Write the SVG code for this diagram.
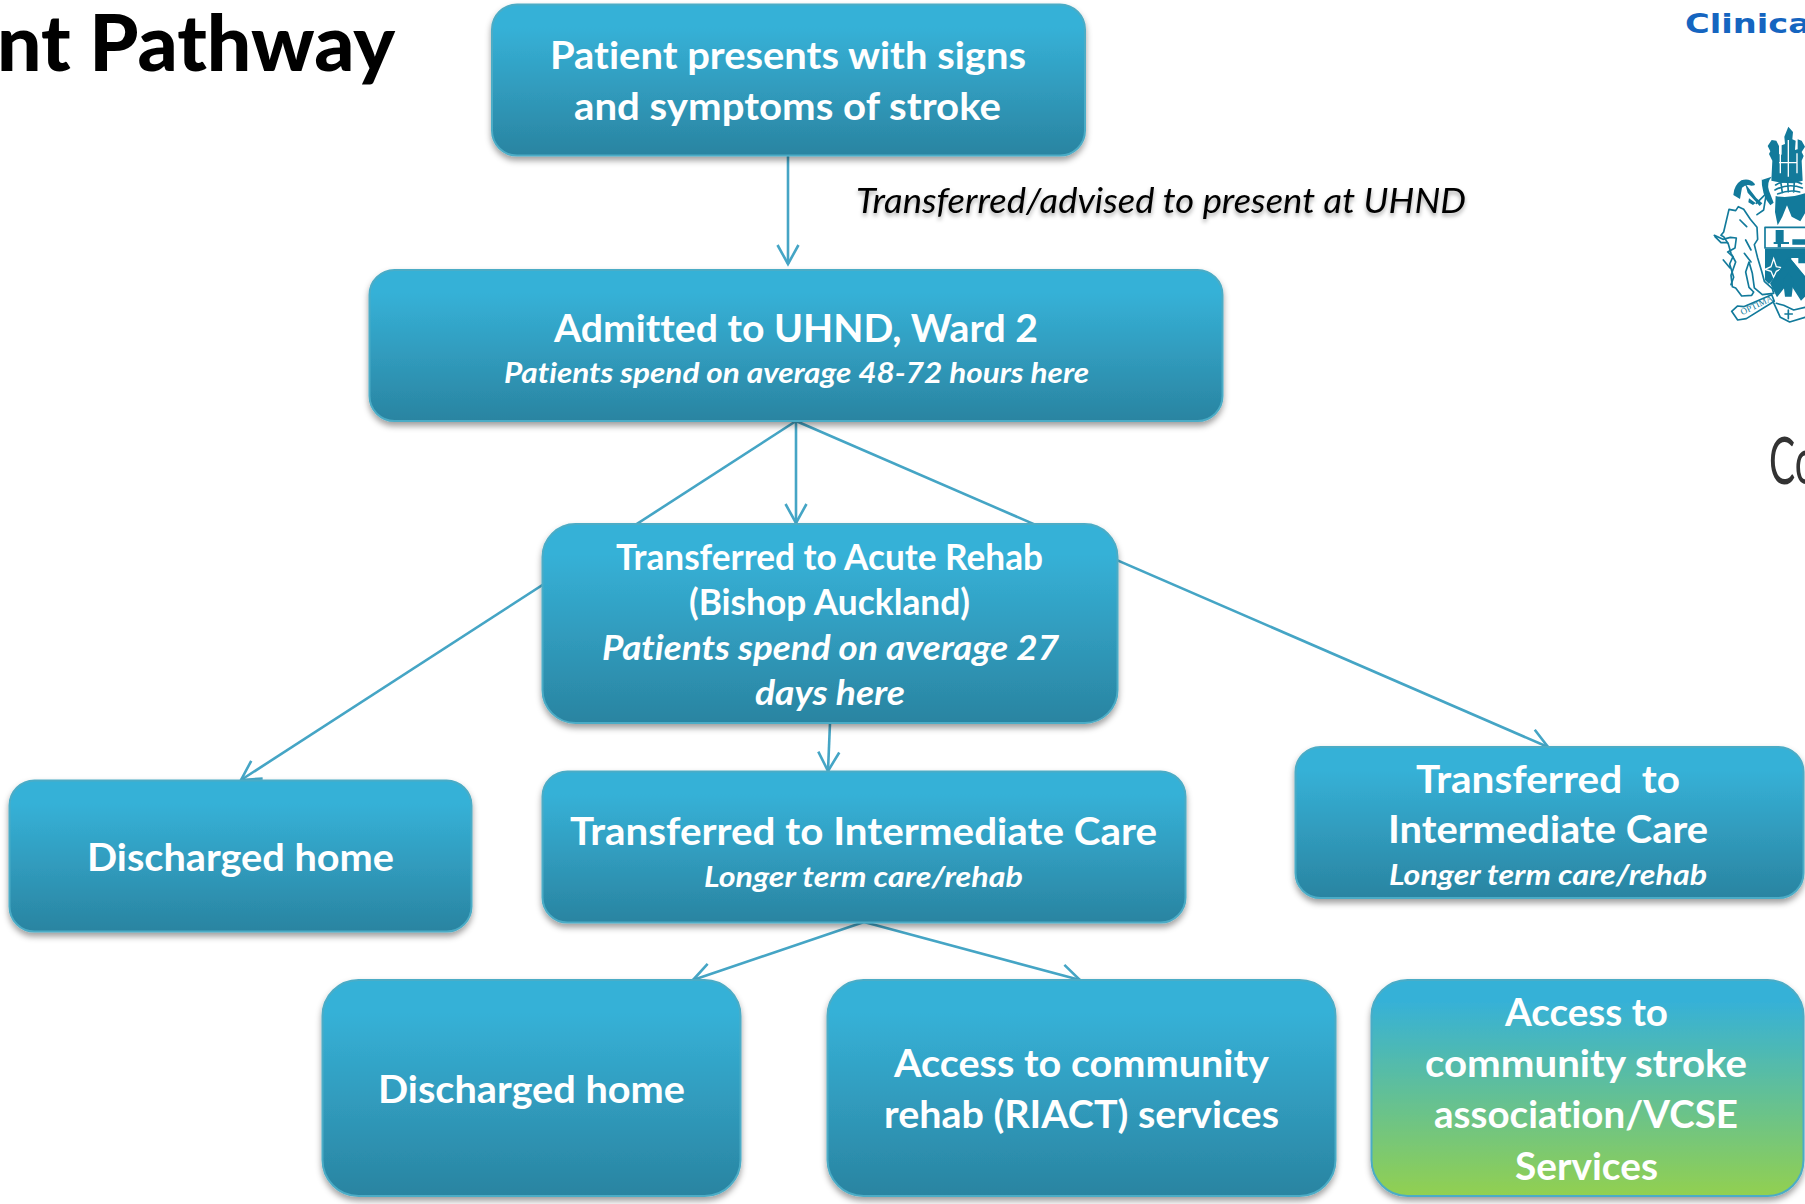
<svg xmlns="http://www.w3.org/2000/svg" width="1805" height="1204" viewBox="0 0 1805 1204">
<style>
.box{fill:url(#blue);stroke:#4bacc6;stroke-width:2;filter:url(#shadow)}
.green{fill:url(#green)}
text{font-family:Lato,"Liberation Sans",sans-serif;font-variant-ligatures:none}
.h{fill:#fff;font-weight:700;font-size:38px}
.s{fill:#fff;font-weight:700;font-style:italic;font-size:29px}
.m{fill:#fff;font-weight:700;font-style:italic;font-size:35px}
.r{font-size:36px}
.conn{fill:none;stroke:#45a5c5;stroke-width:2.6;marker-end:url(#open)}
.crest{fill:none;stroke:#127a9b;stroke-width:5;stroke-linejoin:round;stroke-linecap:round}
.crestf{fill:#127a9b}
.cw{fill:none;stroke:#fff;stroke-width:4}
</style>
<defs>
<linearGradient id="blue" x1="0" y1="0" x2="0" y2="1"><stop offset="0" stop-color="#36b1d7"/><stop offset=".15" stop-color="#36b1d7"/><stop offset="1" stop-color="#2a84a1"/></linearGradient>
<linearGradient id="green" x1="0" y1="0" x2="0" y2="1"><stop offset="0" stop-color="#36b1d7"/><stop offset=".1" stop-color="#36b1d7"/><stop offset="1" stop-color="#92d050"/></linearGradient>
<filter id="shadow" x="-5%" y="-5%" width="110%" height="115%"><feDropShadow dx="0" dy="4" stdDeviation="3" flood-color="#000" flood-opacity=".38"/></filter>
<filter id="tshadow" x="-5%" y="-20%" width="110%" height="150%"><feDropShadow dx="0" dy="3" stdDeviation="2" flood-color="#000" flood-opacity=".35"/></filter>
<marker id="open" markerUnits="userSpaceOnUse" markerWidth="30" markerHeight="30" viewBox="-22 -15 30 30" refX="0" refY="0" orient="auto"><path d="M-19-10.500L0 0L-19 10.500" fill="none" stroke="#45a5c5" stroke-width="2.6"/></marker>
</defs>
<rect width="1805" height="1204" fill="#fff"/>

<g id="title"><text x="-3" y="71" font-size="78" font-weight="900" fill="#000" textLength="398" lengthAdjust="spacingAndGlyphs">nt Pathway</text></g>
<g id="logo-clinical"><text x="1685" y="33" font-size="26" font-weight="700" fill="#1565c0" textLength="126" lengthAdjust="spacingAndGlyphs" style="font-family:'DejaVu Sans',sans-serif">Clinica</text></g>
<g id="logo-co"><text x="1769" y="484" font-size="66" fill="#333" textLength="48" lengthAdjust="spacingAndGlyphs">Co</text></g>

<g id="crest" transform="translate(1705 120) scale(.3333)">
<path class="crestf" d="M250 20l14 16-2 22 10 4-2 28 8-2 0-30 12 4 10 18-10 16 6 12-6 14 3 60-28 8-38-2-28-6 3-60-10-20 4-8-8-16 12-18 14 2 8 16 0 24 8 2 0-28 10-4-2-22z"/>
<path class="cw" d="M250 60v110M222 128h56M226 100v60M276 100v60"/>
<path class="crest" d="M212 195q38-24 78-4M210 210q40-22 82-6M218 222q34-14 66-6M228 190l4 28M248 184l2 32M268 186l-2 30"/>
<path class="crestf" d="M212 228q40 8 88-8v60l-14 24-26-14 -14-34-14 34-14 26-8-40z"/>
<path class="crestf" d="M85 225q2-30 24-44 24-8 40 10 4 6-10 6-16-6-28 6l-6 34zM170 180l30-10q-16 18-8 42l14 36-10 8q-28-32-26-86zM120 190l34 44 18 16-8 8-36-40zM132 235l20 14-8 6-14-8z"/>
<path class="crest" d="M72 268l20 4 8-12 16 8 20 30 20 24 2 36-10 16 10 40 12 40 8 30 24 22 4 14-34 4-24-20-6-44-10-34-10 30 10 46 14 14-6 10-30 2-18-24-10-4-4-34 14-40-14-26-8-28-14-22-8-4 8-10z"/>
<path class="crest" d="M105 300l20 20M122 360l16 30M118 400l20 26M154 250l30-30-8 50-20 14"/>
<path class="crest" stroke-width="7" d="M28 346l26 12 22-6 18 2-4 30-22 12 16 14-10 22 12 40-8 22M30 350l18 18 20 0M55 420l20 24"/>
<rect class="crest" x="180" y="322" width="130" height="62"/>
<path class="crestf" d="M212 330h24v36h-24zM218 368h10v14h-10zM206 366h46v6h-46zM262 358h40v16h-40z"/>
<path class="crestf" d="M180 386h130v28l-50 0-68 78-12-12z"/>
<path class="cw" d="M198 440l8-24 8 24 20 4-20 10-8 18-8-18-18-6z"/>
<path class="crestf" d="M196 492l56-82 48 60v60l-12 12-36-56-36 46z"/>
<path class="crest" d="M198 490l54-76 48 58"/>
<path class="crestf" d="M240 530l-6-50 16-22 16 22-6 50zM280 400h30v30h-30z"/>
<path class="crest" d="M80 574l18 26 26-4 84-52-8-20-84 36-18-2zM204 544l22 48 28 14 46-14M250 570v26M240 582h22M214 550l22 6 30 14 34-8"/>
<text font-size="27" fill="#127a9b" transform="translate(112 586) rotate(-26)" style="font-family:'Liberation Serif',serif">OPTIMA</text>
</g>

<g id="connectors">
<line class="conn" x1="788" y1="155" x2="788" y2="264"/>
<line class="conn" x1="796" y1="421" x2="796" y2="523"/>
<line class="conn" x1="796" y1="421" x2="241" y2="780"/>
<line class="conn" x1="796" y1="421" x2="1548" y2="747"/>
<line class="conn" x1="830" y1="723" x2="828" y2="771"/>
<line class="conn" x1="864" y1="922" x2="693" y2="980"/>
<line class="conn" x1="864" y1="922" x2="1080" y2="980"/>
</g>

<g id="edge-label"><text x="856" y="213" font-size="35" font-style="italic" fill="#000" filter="url(#tshadow)" textLength="610" lengthAdjust="spacingAndGlyphs">Transferred/advised to present at UHND</text></g>

<g id="n1"><rect class="box" x="492" y="4.500" width="593" height="151" rx="25"/>
<text class="h" x="550" y="69" textLength="476" lengthAdjust="spacingAndGlyphs">Patient presents with signs</text>
<text class="h" x="574" y="120" textLength="427" lengthAdjust="spacingAndGlyphs">and symptoms of stroke</text></g>

<g id="n2"><rect class="box" x="369.500" y="270" width="853" height="151" rx="25"/>
<text class="h" x="554" y="342" textLength="484" lengthAdjust="spacingAndGlyphs">Admitted to UHND, Ward 2</text>
<text class="s" x="504" y="383" textLength="585" lengthAdjust="spacingAndGlyphs">Patients spend on average 48-72 hours here</text></g>

<g id="n3"><rect class="box" x="542.500" y="524" width="575" height="199" rx="33"/>
<text class="h r" x="616" y="570" textLength="427" lengthAdjust="spacingAndGlyphs">Transferred to Acute Rehab</text>
<text class="h r" x="689" y="615" textLength="281" lengthAdjust="spacingAndGlyphs">(Bishop Auckland)</text>
<text class="m" x="602" y="660" textLength="457" lengthAdjust="spacingAndGlyphs">Patients spend on average 27</text>
<text class="m" x="755" y="705" textLength="150" lengthAdjust="spacingAndGlyphs">days here</text></g>

<g id="n4"><rect class="box" x="9.500" y="780.500" width="462" height="151" rx="25"/>
<text class="h" x="87" y="871" textLength="307" lengthAdjust="spacingAndGlyphs">Discharged home</text></g>

<g id="n5"><rect class="box" x="542.500" y="771.500" width="643" height="151" rx="25"/>
<text class="h" x="570" y="845" textLength="587" lengthAdjust="spacingAndGlyphs">Transferred to Intermediate Care</text>
<text class="s" x="704" y="887" textLength="319" lengthAdjust="spacingAndGlyphs">Longer term care/rehab</text></g>

<g id="n6"><rect class="box" x="1295.500" y="747" width="508" height="151" rx="25"/>
<text class="h" x="1416" y="793" textLength="264" lengthAdjust="spacingAndGlyphs" xml:space="preserve">Transferred  to</text>
<text class="h" x="1388" y="843" textLength="320" lengthAdjust="spacingAndGlyphs">Intermediate Care</text>
<text class="s" x="1389" y="885" textLength="318" lengthAdjust="spacingAndGlyphs">Longer term care/rehab</text></g>

<g id="n7"><rect class="box" x="322.500" y="980" width="418" height="216" rx="36"/>
<text class="h" x="378" y="1103" textLength="307" lengthAdjust="spacingAndGlyphs">Discharged home</text></g>

<g id="n8"><rect class="box" x="827.500" y="980" width="508" height="216" rx="36"/>
<text class="h" x="894" y="1077" textLength="375" lengthAdjust="spacingAndGlyphs">Access to community</text>
<text class="h" x="884" y="1128" textLength="395" lengthAdjust="spacingAndGlyphs">rehab (RIACT) services</text></g>

<g id="n9"><rect class="box green" x="1371.500" y="980" width="432" height="216" rx="36"/>
<text class="h" x="1505" y="1026" textLength="163" lengthAdjust="spacingAndGlyphs">Access to</text>
<text class="h" x="1425" y="1077" textLength="322" lengthAdjust="spacingAndGlyphs">community stroke</text>
<text class="h" x="1434" y="1128" textLength="304" lengthAdjust="spacingAndGlyphs">association/VCSE</text>
<text class="h" x="1515" y="1180" textLength="143" lengthAdjust="spacingAndGlyphs">Services</text></g>
</svg>
